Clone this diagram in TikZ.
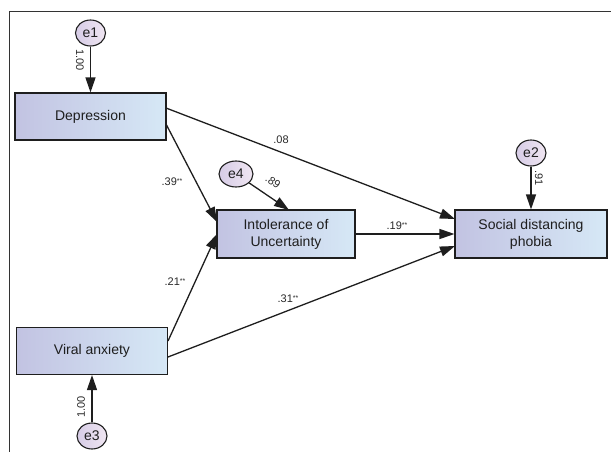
\documentclass[tikz,border=0pt]{standalone}
\usepackage{fontspec}
\setmainfont{Liberation Sans}
\usetikzlibrary{arrows.meta,shapes.geometric}
\definecolor{boxL}{RGB}{194,195,226}
\definecolor{boxR}{RGB}{214,232,246}
\definecolor{errL}{RGB}{214,204,230}
\definecolor{errR}{RGB}{240,230,242}
\definecolor{ink}{RGB}{30,30,30}
\definecolor{lbl}{RGB}{40,40,40}
\begin{document}
\begin{tikzpicture}[x=1pt,y=-1pt,
  box/.style={draw=ink, line width=1.1pt, minimum width=151pt, minimum height=47pt,
    left color=boxL, right color=boxR, align=center, inner sep=0pt,
    font=\fontsize{14}{17}\selectfont, text=ink},
  err/.style={ellipse, draw=ink, line width=1.1pt, minimum width=30pt, minimum height=26pt,
    inner sep=0pt, left color=errL, right color=errR,
    font=\fontsize{14}{17}\selectfont, text=ink},
  link/.style={draw=ink, line width=1.3pt, -{Triangle[length=15pt,width=10pt]}},
  coef/.style={font=\fontsize{11}{13}\selectfont, text=lbl, inner sep=0pt}]
\useasboundingbox (0,0) rectangle (611,452);
\newcommand{\sig}{\raisebox{2.5pt}{\fontsize{7}{8}\selectfont**}}
% frame
\draw[draw=black!80, line width=0.9pt] (9,452) -- (9,11) -- (611,11);
% boxes
\node[box] (dep) at (90.5,116.5) {Depression};
\node[box] (vir) at (92,351) {Viral anxiety};
\node[box, minimum width=138pt, minimum height=48pt] (iu) at (286,234) {Intolerance of\\Uncertainty};
\node[box, minimum width=152pt, minimum height=48pt] (sdp) at (531,234) {Social distancing\\phobia};
% errors
\node[err] (e1) at (90.5,33) {e1};
\node[err] (e3) at (92,436) {e3};
\node[err] (e2) at (531,153) {e2};
\node[err, minimum width=34pt] (e4) at (236,174) {e4};
% anchor points
\coordinate (iuTop) at (289,210);
\coordinate (depA) at (166,108);
\coordinate (depB) at (166,124);
\coordinate (virA) at (168,341);
\coordinate (virB) at (168,357);
\coordinate (sdA) at (455,219);
\coordinate (sdB) at (455,246);
\coordinate (iuA) at (217,222);
\coordinate (iuB) at (217,234);
% connectors
\draw[link] (e1) -- (dep);
\draw[link] (e3) -- (vir);
\draw[link] (e2) -- (sdp);
\draw[link] (e4) -- (iuTop);
\draw[link] (depA) -- (sdA);
\draw[link] (depB) -- (iuA);
\draw[link] (virA) -- (iuB);
\draw[link] (virB) -- (sdB);
\draw[link] (iu) -- (sdp);
% coefficients
\node[coef, rotate=-90] (c1) at (80,60) {1.00};
\node[coef, rotate=90] (c3) at (81,407) {1.00};
\node[coef, rotate=-90] (c2) at (539,178) {.91};
\node[coef, rotate=-35] (c4) at (273,182) {.89};
\node[coef] (c08) at (281,140) {.08};
\node[coef] (c39) at (172,182) {.39\sig};
\node[coef] (c21) at (175,282) {.21\sig};
\node[coef] (c31) at (288,299) {.31\sig};
\node[coef] (c19) at (397,226) {.19\sig};
\end{tikzpicture}
\end{document}
